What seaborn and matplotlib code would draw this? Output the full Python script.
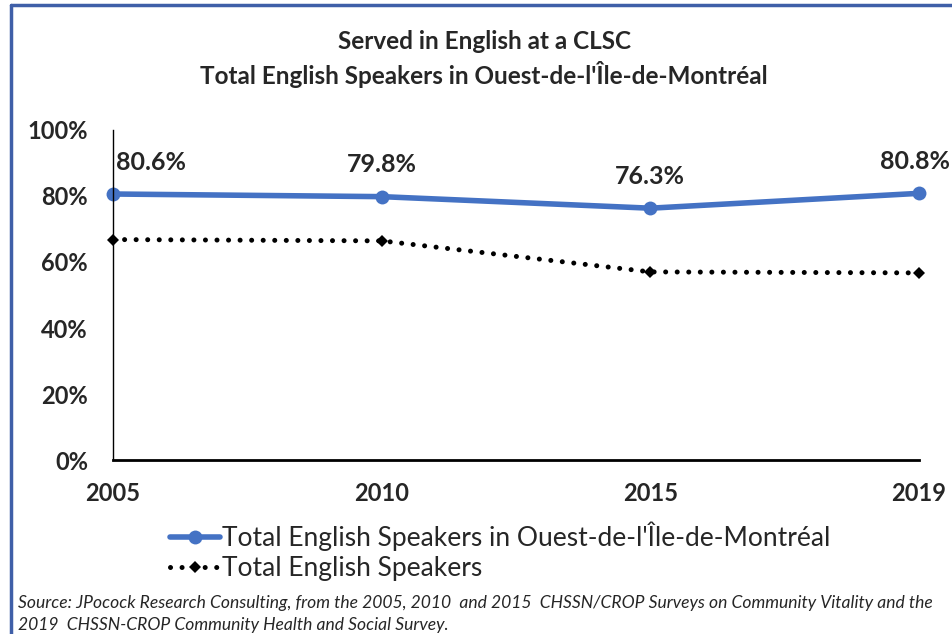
import pandas as pd
import matplotlib.pyplot as plt
import seaborn as sns
from matplotlib.lines import Line2D

years = ["2005", "2010", "2015", "2019"]
ouest_values = [80.6, 79.8, 76.3, 80.8]
total_values = [66.8, 66.4, 57.0, 56.7]
y_ticks = [0, 20, 40, 60, 80, 100]

ouest_name = "Total English Speakers in Ouest-de-l'Île-de-Montréal"
total_name = "Total English Speakers"

df = pd.DataFrame({
    "pos": list(range(len(years))) * 2,
    "value": ouest_values + total_values,
    "series": [ouest_name] * len(years) + [total_name] * len(years),
})

sns.set_theme(style="white")
plt.rcParams['font.family'] = ['Lato', 'DejaVu Sans']

fig = plt.figure(figsize=(9.53, 6.34), dpi=100)
ax = fig.add_axes([0.1186, 0.2744, 0.8457, 0.5206])

blue = "#4472C4"
sns.lineplot(data=df[df.series == ouest_name], x="pos", y="value", ax=ax,
             color=blue, linewidth=4, marker="o", markersize=10,
             markeredgewidth=0, label=ouest_name, clip_on=False)
sns.lineplot(data=df[df.series == total_name], x="pos", y="value", ax=ax,
             color="black", linewidth=3.6, linestyle=(0, (0.01, 2.3)),
             dash_capstyle="round", marker="D", markersize=6.5,
             markeredgewidth=0, label=total_name, clip_on=False)

ax.set_xlim(0, len(years) - 1)
ax.set_ylim(0, 100)
ax.set_xticks(range(len(years)))
ax.set_xticklabels(years, fontsize=17, fontweight="bold")
ax.set_yticks(y_ticks)
ax.set_yticklabels([f"{t}%" for t in y_ticks], fontsize=17, fontweight="bold")
ax.set_xlabel("")
ax.set_ylabel("")

for side in ["top", "right"]:
    ax.spines[side].set_visible(False)
ax.spines["left"].set_color("black")
ax.spines["left"].set_linewidth(1)
ax.spines["bottom"].set_color("black")
ax.spines["bottom"].set_linewidth(2)
ax.tick_params(axis="x", direction="out", length=6, width=1.5, color="black", pad=10)
ax.tick_params(axis="y", length=0, pad=18)

# data labels above the blue line
aligns = ["left", "center", "center", "right"]
shifts = [2, 0, 0, 22]
for i, v in enumerate(ouest_values):
    ax.annotate(f"{v}%", (i, v), xytext=(shifts[i], 23), textcoords="offset points",
                ha=aligns[i], va="center", fontsize=18, fontweight="bold",
                annotation_clip=False)

fig.text(0.508, 0.935, "Served in English at a CLSC", ha="center", va="center",
         fontsize=17.5, fontweight="bold")
fig.text(0.508, 0.882, "Total English Speakers in Ouest-de-l'Île-de-Montréal",
         ha="center", va="center", fontsize=17.5, fontweight="bold")

ax.get_legend().remove()
handles, labels = ax.get_legend_handles_labels()
fig.legend(handles, labels, loc="upper left", bbox_to_anchor=(0.178, 0.177),
           frameon=False, fontsize=19, handlelength=1.9, handletextpad=0.1,
           labelspacing=0.18, borderaxespad=0, borderpad=0)

fig.text(0.019, 0.049,
         "Source: JPocock Research Consulting, from the 2005, 2010  and 2015  CHSSN/CROP Surveys on Community Vitality and the",
         ha="left", va="center", fontsize=12.6, style="italic")
fig.text(0.019, 0.014, "2019  CHSSN-CROP Community Health and Social Survey.",
         ha="left", va="center", fontsize=12.6, style="italic")

frame_color = "#3F5FA8"
fig.add_artist(Line2D([0.012, 1.0], [0.992, 0.992], color=frame_color, linewidth=2.5))
fig.add_artist(Line2D([0.012, 0.012], [0.0, 0.992], color=frame_color, linewidth=2.5))

fig.savefig("out.png", dpi=100, facecolor="white")
